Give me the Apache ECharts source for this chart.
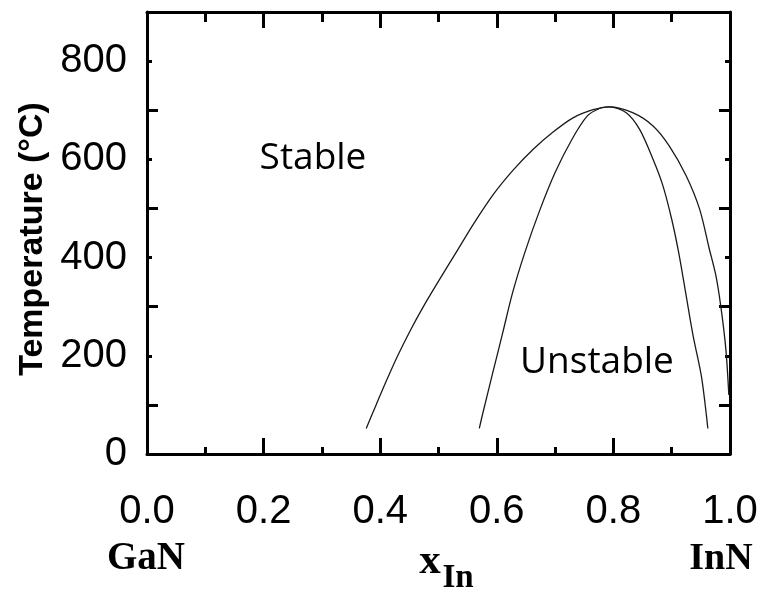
<!DOCTYPE html>
<html>
<head>
<meta charset="utf-8">
<script src="https://cdn.jsdelivr.net/npm/echarts@6/dist/echarts.min.js"></script>
<style>
html,body{margin:0;padding:0;background:#fff;}
#chart{width:761px;height:595px;}
</style>
</head>
<body>
<div id="chart"></div>
<script>
// Outer curve (binodal)
var outerX = [0.376, 0.393, 0.411, 0.430, 0.451, 0.474, 0.499, 0.530, 0.561, 0.595, 0.628, 0.662, 0.696, 0.730, 0.765, 0.793, 0.833, 0.868, 0.896, 0.925, 0.948, 0.964, 0.976, 0.985, 0.993, 0.998];
var outerT = [52, 100, 150, 200, 250, 300, 350, 410, 470, 530, 578, 620, 655, 684, 701, 707, 695, 668, 627, 566, 498, 420, 362, 294, 212, 120];
// Inner curve (spinodal)
var innerX = [0.570, 0.576, 0.593, 0.610, 0.627, 0.648, 0.672, 0.700, 0.729, 0.755, 0.777, 0.793, 0.822, 0.845, 0.868, 0.885, 0.900, 0.912, 0.924, 0.937, 0.951, 0.962];
var innerT = [52, 83, 165, 246, 328, 410, 491, 573, 641, 688, 704, 707, 695, 661, 600, 546, 478, 410, 328, 239, 158, 52];
// Tick labels
var xTickLabels = ['0.0', '0.2', '0.4', '0.6', '0.8', '1.0'];
var yTickLabels = [0, 200, 400, 600, 800];
// Text labels
var regionLabels = ['Stable', 'Unstable'];
var endLabels = ['GaN', 'InN'];

var chart = echarts.init(document.getElementById('chart'), null, {renderer: 'canvas'});

var numFont = "'Liberation Sans', Arial, sans-serif";
var serif = "'Liberation Serif', 'DejaVu Serif', serif";
var sans = "'Open Sans', 'Noto Sans', sans-serif";
var black = '#000';

function xAxisCfg(pos, minorLen, showLabel) {
  return {
    type: 'value', position: pos, min: 0, max: 1, interval: 0.2,
    axisLine: {show: true, onZero: false, lineStyle: {color: black, width: 3}},
    axisTick: {show: true, inside: true, length: 16, lineStyle: {color: black, width: 3}},
    minorTick: {show: true, splitNumber: 2, length: minorLen, lineStyle: {color: black, width: 3}},
    splitLine: {show: false}, minorSplitLine: {show: false},
    axisLabel: {
      show: showLabel, margin: 38, color: black, fontFamily: numFont, fontSize: 40,
      formatter: function (v) { var s = v.toFixed(1); return xTickLabels.indexOf(s) >= 0 ? s : ''; }
    }
  };
}
function yAxisCfg(pos, inverse, len, showLabel, showLine) {
  return {
    type: 'value', position: pos, min: 0, max: 900, interval: 200, inverse: inverse,
    axisLine: {show: showLine, onZero: false, lineStyle: {color: black, width: 3}},
    axisTick: {show: true, inside: true, length: len, lineStyle: {color: black, width: 3}},
    splitLine: {show: false},
    axisLabel: {
      show: showLabel, margin: 20, color: black, fontFamily: numFont, fontSize: 40,
      formatter: function (v) { return yTickLabels.indexOf(v) >= 0 ? String(v) : ''; }
    }
  };
}

var leftY = yAxisCfg('left', false, 5, true, true);
leftY.name = 'Temperature (°C)';
leftY.nameLocation = 'middle';
leftY.nameRotate = 90;
leftY.nameGap = 96;
leftY.nameTextStyle = {color: black, fontFamily: "'Liberation Sans', Arial, sans-serif", fontWeight: 'bold', fontSize: 34, padding: [0, 12, 0, 0]};

function mk(xs, ts) { return xs.map(function (x, i) { return [x, ts[i]]; }); }

var option = {
  animation: false,
  backgroundColor: '#fff',
  grid: {left: 147, right: 31, top: 12, bottom: 141, containLabel: false},
  xAxis: [xAxisCfg('bottom', 7, true), xAxisCfg('top', 10, false)],
  yAxis: [leftY, yAxisCfg('left', true, 11, false, false), yAxisCfg('right', false, 5, false, true), yAxisCfg('right', true, 11, false, false)],
  series: [
    {type: 'line', name: 'binodal', xAxisIndex: 0, yAxisIndex: 0, data: mk(outerX, outerT), showSymbol: false, symbol: 'none', smooth: 0.3,
     lineStyle: {color: '#1a1a1a', width: 1.3}, silent: true},
    {type: 'line', name: 'spinodal', xAxisIndex: 0, yAxisIndex: 0, data: mk(innerX, innerT), showSymbol: false, symbol: 'none', smooth: 0.3,
     lineStyle: {color: '#1a1a1a', width: 1.3}, silent: true}
  ],
  graphic: [
    {type: 'text', x: 313, y: 158, style: {text: regionLabels[0], fontFamily: sans, fontSize: 37, fill: black, align: 'center', verticalAlign: 'middle'}},
    {type: 'text', x: 597, y: 362, style: {text: regionLabels[1], fontFamily: sans, fontSize: 37, fill: black, align: 'center', verticalAlign: 'middle'}},
    {type: 'text', x: 146, y: 559, style: {text: endLabels[0], fontFamily: serif, fontWeight: 'bold', fontSize: 39, fill: black, align: 'center', verticalAlign: 'middle'}},
    {type: 'text', x: 721, y: 559, style: {text: endLabels[1], fontFamily: serif, fontWeight: 'bold', fontSize: 38, fill: black, align: 'center', verticalAlign: 'middle'}},
    {type: 'text', x: 430, y: 562, style: {text: 'x', fontFamily: serif, fontWeight: 'bold', fontSize: 43, fill: black, align: 'center', verticalAlign: 'middle'}},
    {type: 'text', x: 458, y: 578, style: {text: 'In', fontFamily: serif, fontWeight: 'bold', fontSize: 33, fill: black, align: 'center', verticalAlign: 'middle'}}
  ]
};
chart.setOption(option);
</script>
</body>
</html>
